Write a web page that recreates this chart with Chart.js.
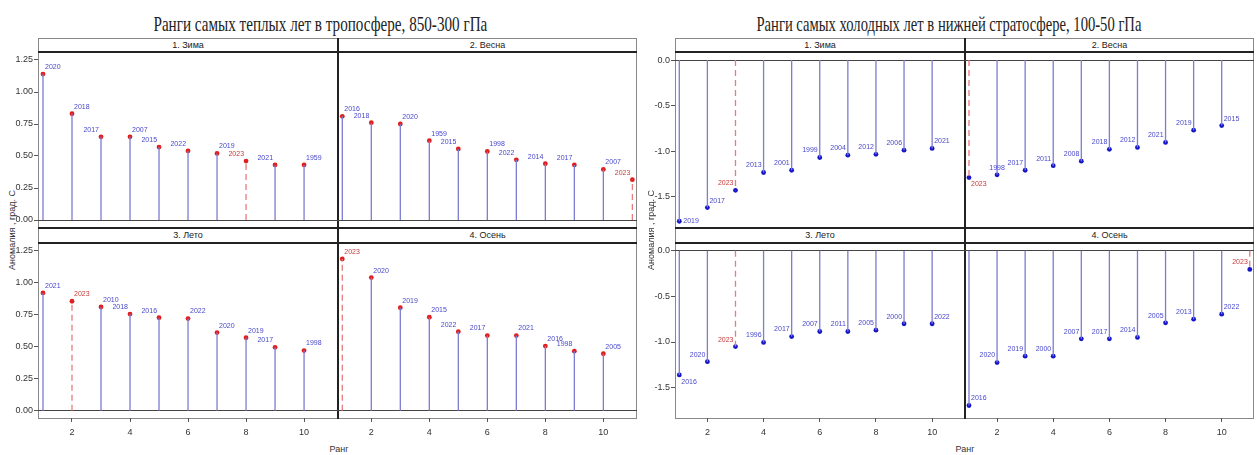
<!DOCTYPE html>
<html>
<head>
<meta charset="utf-8">
<script src="https://cdn.jsdelivr.net/npm/chart.js@4.4.1/dist/chart.umd.min.js"></script>
<style>
  html, body { margin:0; padding:0; background:#fff; }
  #root { position:relative; width:1257px; height:455px; overflow:hidden; background:#fff; }
  .abs { position:absolute; box-sizing:border-box; }
  .title { position:absolute; white-space:nowrap; font-family:"Liberation Serif","Times New Roman",serif; font-size:22px; color:#222; line-height:1; }
  .strip { font-family:"Liberation Sans Narrow","Liberation Sans",Arial,sans-serif; font-size:9px; color:#222; text-align:center; background:#fff; }
  .lbl { position:absolute; white-space:nowrap; font-family:"Liberation Sans",Arial,sans-serif; font-size:9px; color:#333; }
  canvas { position:absolute; }
</style>
</head>
<body>
<div id="root"></div>
<script>
// ---------------- DATA ----------------
const facetTitles = ["1. Зима", "2. Весна", "3. Лето", "4. Осень"];

// Warmest years, troposphere 850-300 hPa
const warmWinterYears = [2020, 2018, 2017, 2007, 2015, 2022, 2019, 2023, 2021, 1959];
const warmWinterVals  = [1.14, 0.83, 0.65, 0.65, 0.57, 0.54, 0.52, 0.46, 0.43, 0.43];
const warmSpringYears = [2016, 2018, 2020, 1959, 2015, 1998, 2022, 2014, 2017, 2007, 2023];
const warmSpringVals  = [0.81, 0.76, 0.75, 0.62, 0.555, 0.535, 0.47, 0.44, 0.43, 0.395, 0.315];
const warmSummerYears = [2021, 2023, 2010, 2018, 2016, 2022, 2020, 2019, 2017, 1998];
const warmSummerVals  = [0.92, 0.855, 0.81, 0.755, 0.727, 0.72, 0.61, 0.57, 0.495, 0.47];
const warmAutumnYears = [2023, 2020, 2019, 2015, 2022, 2017, 2021, 2016, 1998, 2005];
const warmAutumnVals  = [1.185, 1.04, 0.805, 0.73, 0.617, 0.587, 0.587, 0.505, 0.465, 0.445];

// Coldest years, lower stratosphere 100-50 hPa
const coldWinterYears = [2019, 2017, 2023, 2013, 2001, 1999, 2004, 2012, 2006, 2021];
const coldWinterVals  = [-1.77, -1.62, -1.43, -1.235, -1.21, -1.07, -1.045, -1.035, -0.99, -0.97];
const coldSpringYears = [2023, 1998, 2017, 2011, 2008, 2018, 2012, 2021, 2019, 2015];
const coldSpringVals  = [-1.29, -1.26, -1.21, -1.16, -1.11, -0.98, -0.96, -0.905, -0.77, -0.72];
const coldSummerYears = [2016, 2020, 2023, 1996, 2017, 2007, 2011, 2005, 2000, 2022];
const coldSummerVals  = [-1.36, -1.215, -1.05, -1.005, -0.94, -0.885, -0.885, -0.87, -0.80, -0.80];
const coldAutumnYears = [2016, 2020, 2019, 2000, 2007, 2017, 2014, 2005, 2013, 2022, 2023];
const coldAutumnVals  = [-1.695, -1.225, -1.155, -1.155, -0.965, -0.965, -0.95, -0.79, -0.75, -0.695, -0.205];

// Tick labels
const warmYTicks = [0, 0.25, 0.5, 0.75, 1, 1.25];
const coldYTicks = [0, -0.5, -1, -1.5];
const xTicks = [2, 4, 6, 8, 10];

// Label placement for year annotations (L = above-left, R = above-right, MR = right, BR = below-right, C = above-centre)
const warmWinterSide = ['R','R','L','R','L','L','R','L','L','R'];
const warmSpringSide = ['R','L','R','R','L','R','L','L','L','R','L'];
const warmSummerSide = ['R','R','R','L','L','R','R','R','L','R'];
const warmAutumnSide = ['R','R','R','R','L','L','R','R','L','R'];
const coldWinterSide = ['MR','R','L','L','L','L','L','L','L','R'];
const coldSpringSide = ['BR','C','L','L','L','L','L','L','L','R'];
const coldSummerSide = ['BR','L','L','L','L','L','L','L','L','R'];
const coldAutumnSide = ['R','L','L','L','L','L','L','L','L','R','L'];

const highlightYear = 2023;

// ---------------- LAYOUT ----------------
const root = document.getElementById('root');
const ROWS = [[52, 228], [243, 418]];
const STRIPS = [[38, 52], [228, 243]];

const panels = [
  {
    title: "Ранги самых теплых лет в тропосфере, 850-300 гПа",
    titleCx: 320, titleW: 334,
    cols: [[38, 338], [338, 637]],
    xr: [[0.828, 11.17], [0.852, 11.16]],
    yr: [[-0.0625, 1.3125], [-0.057, 1.31]],
    yTicks: warmYTicks, dec: 2,
    pointColor: '#e01e1e',
    yTitleX: 12, xTitleX: 339,
    facets: [
      [warmWinterYears, warmWinterVals, warmWinterSide],
      [warmSpringYears, warmSpringVals, warmSpringSide],
      [warmSummerYears, warmSummerVals, warmSummerSide],
      [warmAutumnYears, warmAutumnVals, warmAutumnSide]
    ]
  },
  {
    title: "Ранги самых холодных лет в нижней стратосфере, 100-50 гПа",
    titleCx: 949, titleW: 385,
    cols: [[675, 965], [965, 1254]],
    xr: [[0.847, 11.17], [0.858, 11.15]],
    yr: [[-1.844, 0.088], [-1.832, 0.084]],
    yTicks: coldYTicks, dec: 1,
    pointColor: '#1414c8',
    yTitleX: 651, xTitleX: 965,
    facets: [
      [coldWinterYears, coldWinterVals, coldWinterSide],
      [coldSpringYears, coldSpringVals, coldSpringSide],
      [coldSummerYears, coldSummerVals, coldSummerSide],
      [coldAutumnYears, coldAutumnVals, coldAutumnSide]
    ]
  }
];

function div(cls, x, y, w, h, css) {
  const d = document.createElement('div');
  d.className = cls;
  d.style.left = x + 'px'; d.style.top = y + 'px';
  if (w != null) d.style.width = w + 'px';
  if (h != null) d.style.height = h + 'px';
  if (css) Object.assign(d.style, css);
  root.appendChild(d);
  return d;
}

const labelPlugin = {
  id: 'yearLabels',
  afterDatasetsDraw(chart) {
    const o = chart.options.plugins.yearLabels;
    const ds = chart.data.datasets.length - 1;
    const meta = chart.getDatasetMeta(ds);
    const ctx = chart.ctx;
    ctx.save();
    ctx.font = '7px "Liberation Sans Narrow", "Liberation Sans", Arial, sans-serif';
    ctx.textBaseline = 'middle';
    meta.data.forEach((el, i) => {
      const yr = o.years[i];
      const side = o.sides[i];
      ctx.fillStyle = yr === highlightYear ? '#c83a3a' : '#4848cc';
      let x = el.x, y = el.y;
      if (side === 'R') { ctx.textAlign = 'left'; x += 2; y -= 7; }
      else if (side === 'L') { ctx.textAlign = 'right'; x -= 2; y -= 7; }
      else if (side === 'MR') { ctx.textAlign = 'left'; x += 4; }
      else if (side === 'BR') { ctx.textAlign = 'left'; x += 2; y += 7; }
      else { ctx.textAlign = 'center'; y -= 7; }
      ctx.fillText(String(yr), x, y);
    });
    ctx.restore();
  }
};

const PADL = 45, PADT = 10, PADR = 10, PADB = 30;

panels.forEach(p => {
  // title
  const t = div('title', 0, 13, null, null);
  t.textContent = p.title;
  const w = t.offsetWidth;
  t.style.left = (p.titleCx - w / 2) + 'px';
  t.style.transform = 'scaleX(' + (p.titleW / w) + ')';
  t.style.transformOrigin = 'center';

  const x0 = p.cols[0][0], x2 = p.cols[1][1];
  // frames
  for (let r = 0; r < 2; r++) {
    for (let c = 0; c < 2; c++) {
      const [cx0, cx1] = p.cols[c];
      const [sy0, sy1] = STRIPS[r];
      const [ry0, ry1] = ROWS[r];
      div('abs', cx0, ry0, cx1 - cx0, ry1 - ry0 + 1, { border: '1px solid #888' });
      const s = div('abs strip', cx0, sy0, cx1 - cx0, sy1 - sy0, { border: '1px solid #888', lineHeight: (sy1 - sy0 - 2) + 'px' });
      s.textContent = facetTitles[r * 2 + c];
    }
  }
  // heavy lines
  div('abs', x0, 51, x2 - x0, 2, { background: '#222' });
  div('abs', x0, 227, x2 - x0, 2, { background: '#222' });
  div('abs', x0, 242, x2 - x0, 2, { background: '#222' });
  div('abs', p.cols[1][0] - 1, 38, 2, 381, { background: '#222' });

  // axis titles
  const yt = div('lbl', p.yTitleX - 50, 224, 100, 12, { textAlign: 'center', transform: 'rotate(-90deg)', lineHeight: '12px' });
  yt.textContent = 'Аномалия , град. С';
  const xt = div('lbl', p.xTitleX - 30, 443, 60, 12, { textAlign: 'center', lineHeight: '12px' });
  xt.textContent = 'Ранг';

  // charts
  for (let r = 0; r < 2; r++) {
    for (let c = 0; c < 2; c++) {
      const [years, vals, sides] = p.facets[r * 2 + c];
      const [cx0, cx1] = p.cols[c];
      const [ry0, ry1] = ROWS[r];
      const pw = cx1 - cx0, ph = ry1 - ry0;
      const cv = document.createElement('canvas');
      cv.width = pw + PADL + PADR; cv.height = ph + PADT + PADB;
      cv.style.left = (cx0 - PADL) + 'px';
      cv.style.top = (ry0 - PADT) + 'px';
      root.appendChild(cv);

      const datasets = vals.map((v, i) => ({
        data: [{ x: i + 1, y: 0 }, { x: i + 1, y: v }],
        showLine: true,
        borderColor: years[i] === highlightYear ? '#e67c7c' : '#7c7cd2',
        borderWidth: 1.3,
        borderDash: years[i] === highlightYear ? [6, 4] : [],
        pointRadius: 0
      }));
      datasets.push({
        data: vals.map((v, i) => ({ x: i + 1, y: v })),
        pointRadius: 2.4,
        pointBackgroundColor: p.pointColor,
        pointBorderWidth: 0,
        showLine: false
      });
      const showY = c === 0, showX = r === 1;
      const yTicks = p.yTicks, dec = p.dec;
      new Chart(cv, {
        type: 'scatter',
        data: { datasets },
        options: {
          responsive: false, animation: false, events: [],
          layout: { padding: { left: 0, top: PADT, right: PADR, bottom: 0 } },
          plugins: { legend: { display: false }, tooltip: { enabled: false },
                     yearLabels: { years, sides } },
          scales: {
            x: {
              type: 'linear', min: p.xr[c][0], max: p.xr[c][1],
              afterBuildTicks: s => { s.ticks = xTicks.map(v => ({ value: v })); },
              afterFit: s => { s.height = PADB; s.paddingLeft = 0; s.paddingRight = 0; },
              grid: { drawOnChartArea: false, drawTicks: true, tickLength: 4,
                      tickColor: showX ? '#555' : 'rgba(0,0,0,0)', color: 'rgba(0,0,0,0)' },
              border: { display: false },
              ticks: { padding: 5, color: showX ? '#333' : 'rgba(0,0,0,0)', maxRotation: 0, autoSkip: false,
                       font: { family: '"Liberation Sans Narrow","Liberation Sans",Arial,sans-serif', size: 9 },
                       callback: v => String(v) }
            },
            y: {
              type: 'linear', min: p.yr[r][0], max: p.yr[r][1],
              afterBuildTicks: s => { s.ticks = yTicks.map(v => ({ value: v })); },
              afterFit: s => { s.width = PADL; s.paddingTop = 0; s.paddingBottom = 0; },
              grid: { drawOnChartArea: true, drawTicks: true, tickLength: 4,
                      tickColor: showY ? '#555' : 'rgba(0,0,0,0)',
                      color: ctx => (ctx.tick && ctx.tick.value === 0) ? '#444' : 'rgba(0,0,0,0)',
                      lineWidth: 1 },
              border: { display: false },
              ticks: { padding: 1, color: showY ? '#333' : 'rgba(0,0,0,0)', autoSkip: false,
                       font: { family: '"Liberation Sans Narrow","Liberation Sans",Arial,sans-serif', size: 9 },
                       callback: v => Number(v).toFixed(dec) }
            }
          }
        },
        plugins: [labelPlugin]
      });
    }
  }
});
</script>
</body>
</html>
